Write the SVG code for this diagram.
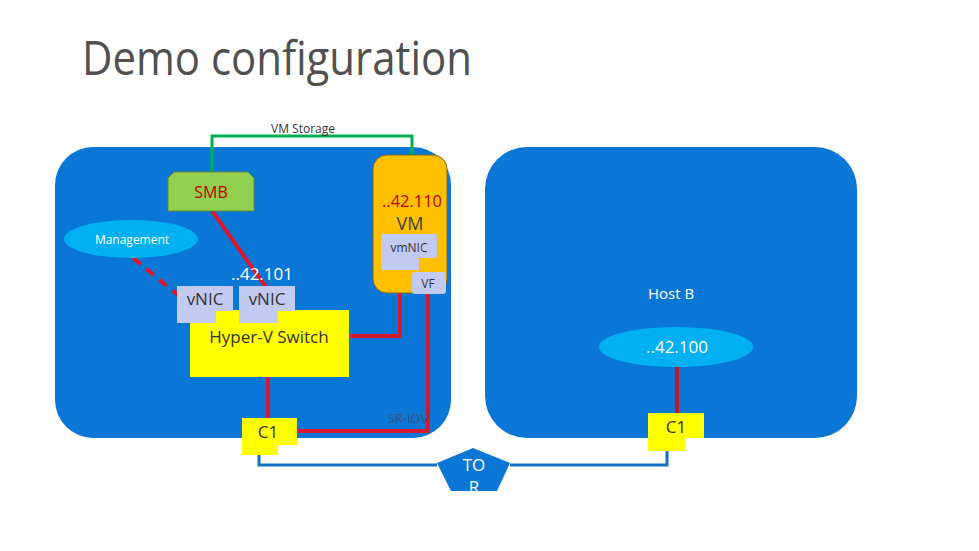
<svg xmlns="http://www.w3.org/2000/svg" width="979" height="551" viewBox="0 0 979 551">
<style>
text{font-family:"Open Sans","Noto Sans",sans-serif;}
.host{fill:#0A76D6;}
.red{stroke:#D8182E;stroke-width:4;fill:none;}
.blue{stroke:#1470C4;stroke-width:3;fill:none;}
.nic{fill:#C3CAF0;}
.c1{fill:#FFFF00;}
.dark{fill:#333333;}
.white{fill:#FFFFFF;}
</style>
<defs>
<clipPath id="torclip"><polygon points="473,448 510,463 497,491 451,491 437,463"/></clipPath>
</defs>
<rect width="979" height="551" fill="#FFFFFF"/>
<text x="82" y="75" font-size="47" fill="#505050" textLength="390" lengthAdjust="spacingAndGlyphs">Demo configuration</text>

<g id="hostA"><rect class="host" x="55" y="147" width="396" height="291" rx="38"/></g>
<g id="hostB"><rect class="host" x="485" y="147" width="372" height="291" rx="42"/>
<text class="white" x="671" y="299" font-size="15" text-anchor="middle">Host B</text></g>

<g id="connectors">
<polyline points="212,172 212,136 412,136 412,155" stroke="#00B050" stroke-width="3" fill="none"/>
<line class="red" x1="212" y1="211" x2="266" y2="287"/>
<line x1="133" y1="258" x2="178" y2="295" stroke="#D8182E" stroke-width="4" stroke-dasharray="10,7"/>
<polyline class="red" points="349,336 400,336 400,271"/>
<polyline class="red" points="428,294 428,431 297,431"/>
<line class="red" x1="419" y1="264" x2="427" y2="271" stroke-width="5"/>
<line class="red" x1="268" y1="377" x2="268" y2="418"/>
<line x1="677" y1="367" x2="677" y2="414" stroke="#C0182E" stroke-width="4"/>
<polyline class="blue" points="259,455 259,465 437,465"/>
<polyline class="blue" points="510,465 667,465 667,451"/>
</g>
<text x="408" y="423" font-size="13" fill="#3C5478" text-anchor="middle">SR-IOV</text>

<g id="vm">
<rect x="373" y="155" width="74" height="138" rx="14" fill="#FFC000" stroke="#7F6A1A" stroke-width="1"/>
<text x="412" y="207" font-size="17" fill="#C00000" text-anchor="middle" textLength="60" lengthAdjust="spacingAndGlyphs">..42.110</text>
<text x="410" y="230" font-size="18" fill="#404040" text-anchor="middle">VM</text>
</g>
<g id="vmnic">
<path class="nic" d="M383,234 H435 Q437,234 437,236 V256 Q437,258 435,258 H419 V270 H383 Q381,270 381,268 V236 Q381,234 383,234 Z"/>
<text class="dark" x="409" y="252" font-size="12" text-anchor="middle">vmNIC</text>
</g>
<g id="vf">
<rect class="nic" x="412" y="272" width="34" height="22" rx="3"/>
<text class="dark" x="428" y="288" font-size="12" text-anchor="middle">VF</text>
</g>

<g id="smb">
<path d="M174,172 H248 L254,178 V211 H168 V178 Z" fill="#92D050" stroke="#5E8A2E" stroke-width="1"/>
<text x="211" y="198" font-size="16" fill="#C00000" text-anchor="middle">SMB</text>
</g>
<text x="303" y="133" font-size="12" fill="#333333" text-anchor="middle">VM Storage</text>

<g id="management">
<ellipse cx="131" cy="239" rx="67" ry="19" fill="#00B0F0"/>
<text class="white" x="132" y="244" font-size="12" text-anchor="middle">Management</text>
</g>

<g id="switch">
<rect x="190" y="310" width="159" height="67" fill="#FFFF00"/>
<text class="dark" x="269" y="343" font-size="17" text-anchor="middle">Hyper-V Switch</text>
</g>

<text class="white" x="262" y="280" font-size="17" text-anchor="middle">..42.101</text>
<g id="vnic1">
<path class="nic" d="M177,286 H233 V311 H216 V323 H177 Z"/>
<text class="dark" x="205" y="305" font-size="17" text-anchor="middle">vNIC</text>
</g>
<g id="vnic2">
<path class="nic" d="M239,286 H295 V311 H278 V323 H239 Z"/>
<text class="dark" x="267" y="305" font-size="17" text-anchor="middle">vNIC</text>
</g>

<g id="c1a">
<path class="c1" d="M242,418 H297 V445 H278 V455 H242 Z"/>
<text class="dark" x="268" y="438" font-size="17" text-anchor="middle">C1</text>
</g>
<g id="c1b">
<path class="c1" d="M648,413 H704 V438 H685 V451 H648 Z"/>
<text class="dark" x="676" y="433" font-size="17" text-anchor="middle">C1</text>
</g>

<g id="ip100">
<ellipse cx="676" cy="347" rx="77" ry="20" fill="#00B0F0"/>
<text class="white" x="677" y="353" font-size="17" text-anchor="middle">..42.100</text>
</g>

<g id="tor">
<polygon points="473,448 510,463 497,491 451,491 437,463" fill="#0A76D6"/>
<g clip-path="url(#torclip)">
<text class="white" x="474" y="471" font-size="17" text-anchor="middle">TO</text>
<text class="white" x="474" y="493" font-size="17" text-anchor="middle">R</text>
</g>
</g>
</svg>
